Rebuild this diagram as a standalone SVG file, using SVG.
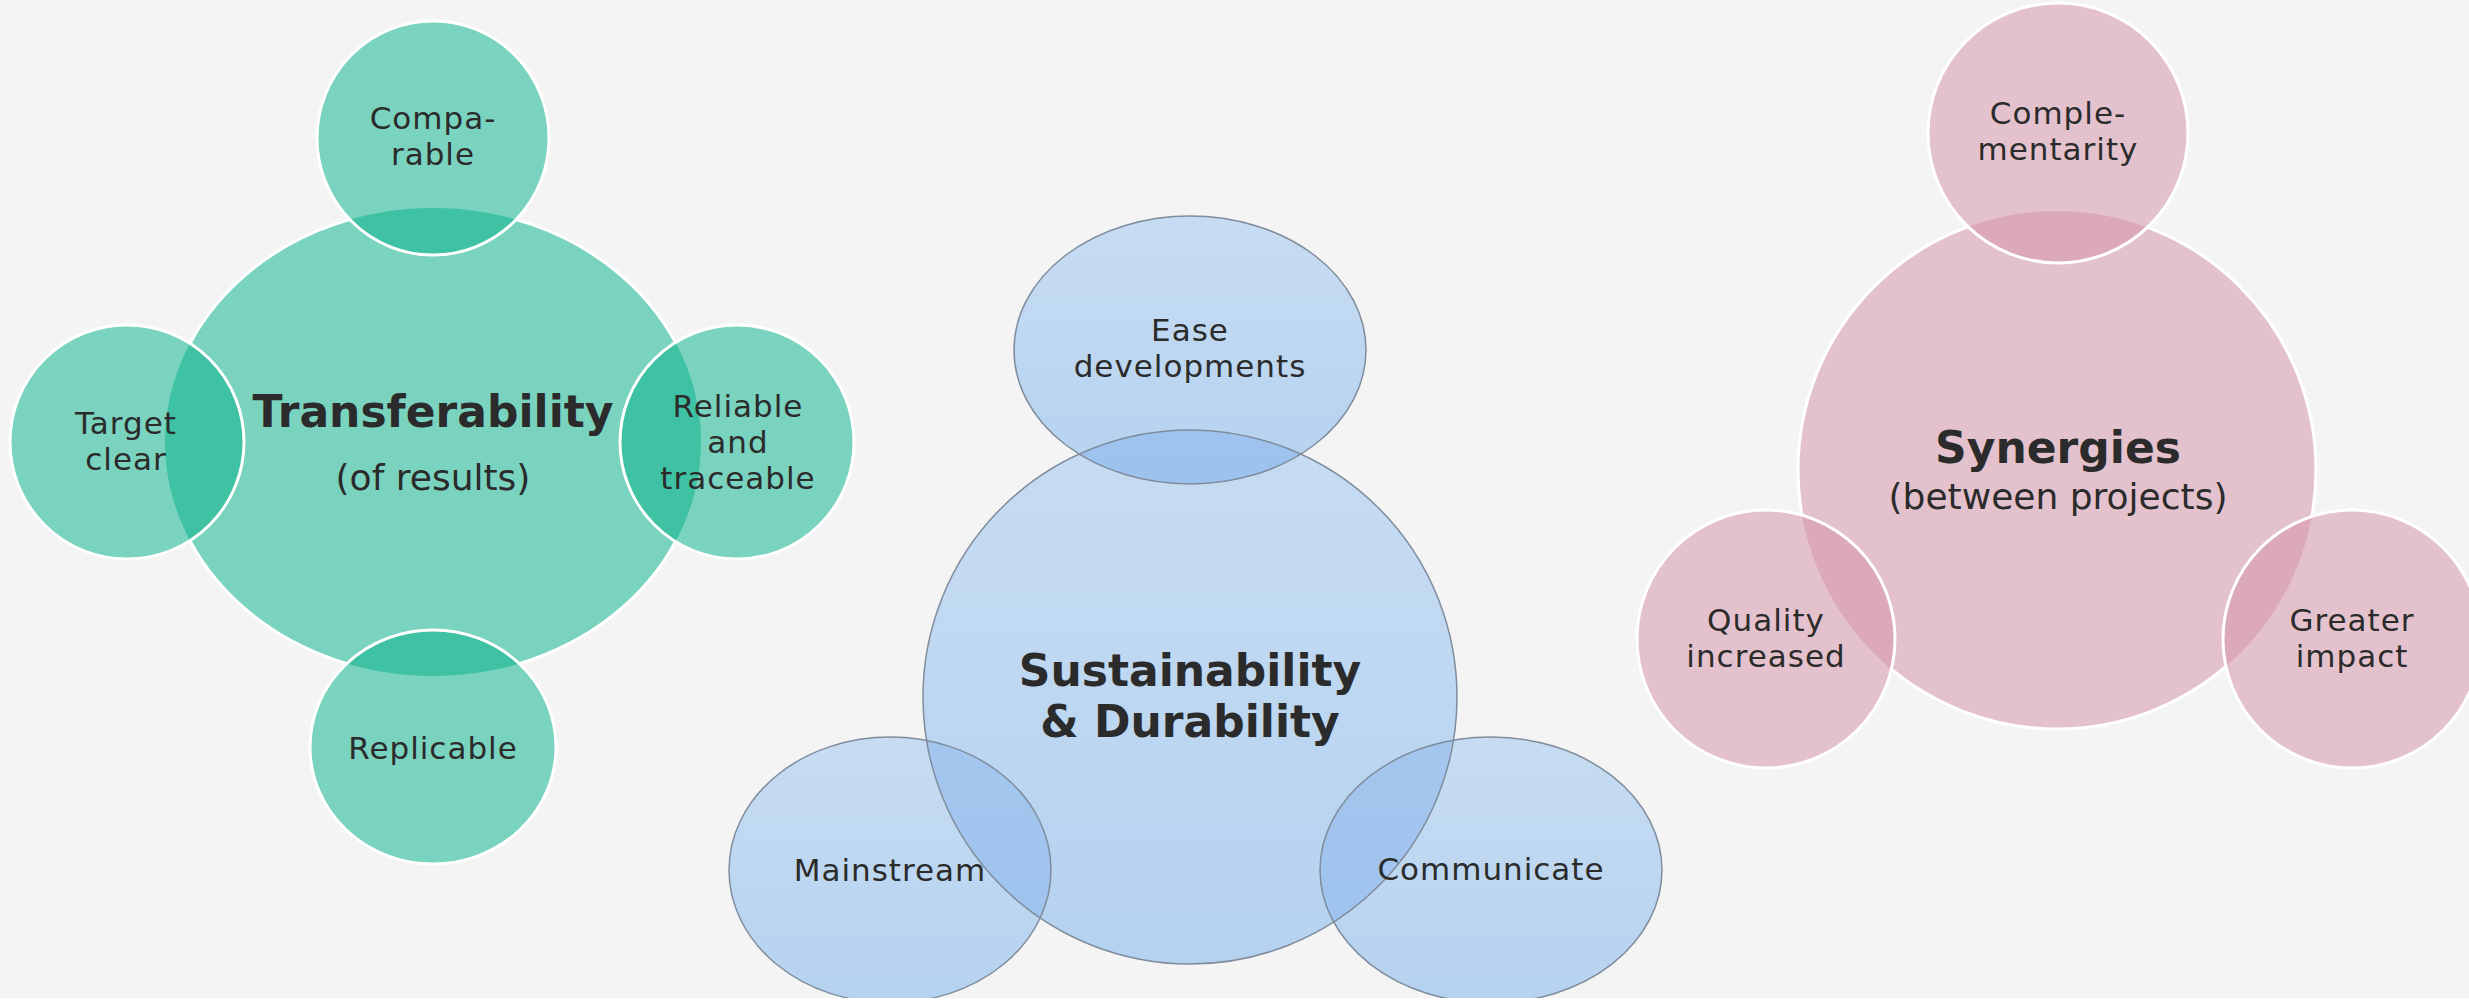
<svg xmlns="http://www.w3.org/2000/svg" width="2469" height="1002" viewBox="0 0 2469 1002">
<style>
.t{font-family:"DejaVu Sans","Liberation Sans",sans-serif;fill:#2b2b2b;text-anchor:middle}
.s{font-size:31px;letter-spacing:1px}
.h{font-size:44px;font-weight:bold}
.sub{font-size:36px}
.g{fill:#7ad3bf}
.gl{fill:#3ec2a3}
.wst{fill:none;stroke:#ffffff;stroke-width:3}
.p{fill:#e4c2cd}
.pl{fill:#dca8bb}
.b{fill:url(#bg)}
.bl{fill:url(#blg)}
.bst{fill:none;stroke:#7f8c9c;stroke-width:1.5}
</style>
<defs>
<linearGradient id="bg" x1="0" y1="0" x2="0" y2="1">
<stop offset="0" stop-color="#c7dcf2"/>
<stop offset="1" stop-color="#b5d2f0"/>
</linearGradient>
<linearGradient id="blg" x1="0" y1="0" x2="0" y2="1">
<stop offset="0" stop-color="#a4c6ee"/>
<stop offset="1" stop-color="#9cc2ee"/>
</linearGradient>
<clipPath id="cpGreen"><ellipse cx="433" cy="442" rx="268" ry="234"/></clipPath>
<clipPath id="cpBlue"><circle cx="1190" cy="697" r="267"/></clipPath>
<clipPath id="cpPink"><circle cx="2057" cy="470" r="259"/></clipPath>
<clipPath id="cpEase"><ellipse cx="1190" cy="350" rx="176" ry="134"/></clipPath>
<clipPath id="cpMain"><ellipse cx="890" cy="870" rx="161" ry="133"/></clipPath>
<clipPath id="cpComm"><ellipse cx="1491" cy="870" rx="171" ry="133"/></clipPath>
</defs>
<rect x="0" y="0" width="2469" height="1002" fill="#ffffff"/>
<rect x="0" y="0" width="2469" height="998" fill="#f4f4f4"/>

<g id="connectors"></g>

<!-- Green cluster -->
<g id="transferability">
<ellipse class="g" cx="433" cy="442" rx="268" ry="234" stroke="#ffffff" stroke-width="3"/>
<text class="t h" x="433" y="427">Transferability</text>
<text class="t sub" x="433" y="490">(of results)</text>
</g>
<g id="comparable">
<ellipse class="g" cx="433" cy="138" rx="116" ry="117"/>
<ellipse class="gl" cx="433" cy="138" rx="116" ry="117" clip-path="url(#cpGreen)"/>
<ellipse class="wst" cx="433" cy="138" rx="116" ry="117"/>
<text class="t s" x="433" y="129">Compa-</text>
<text class="t s" x="433" y="165">rable</text>
</g>
<g id="target-clear">
<ellipse class="g" cx="127" cy="442" rx="117" ry="117"/>
<ellipse class="gl" cx="127" cy="442" rx="117" ry="117" clip-path="url(#cpGreen)"/>
<ellipse class="wst" cx="127" cy="442" rx="117" ry="117"/>
<text class="t s" x="126" y="434">Target</text>
<text class="t s" x="126" y="470">clear</text>
</g>
<g id="reliable">
<ellipse class="g" cx="737" cy="442" rx="117" ry="117"/>
<ellipse class="gl" cx="737" cy="442" rx="117" ry="117" clip-path="url(#cpGreen)"/>
<ellipse class="wst" cx="737" cy="442" rx="117" ry="117"/>
<text class="t s" x="738" y="417">Reliable</text>
<text class="t s" x="738" y="453">and</text>
<text class="t s" x="738" y="489">traceable</text>
</g>
<g id="replicable">
<ellipse class="g" cx="433" cy="747" rx="123" ry="117"/>
<ellipse class="gl" cx="433" cy="747" rx="123" ry="117" clip-path="url(#cpGreen)"/>
<ellipse class="wst" cx="433" cy="747" rx="123" ry="117"/>
<text class="t s" x="433" y="759">Replicable</text>
</g>

<!-- Blue cluster -->
<g id="sustainability">
<circle class="b" cx="1190" cy="697" r="267"/>
<circle class="bst" cx="1190" cy="697" r="267"/>
<text class="t h" x="1190" y="686">Sustainability</text>
<text class="t h" x="1190" y="737">&amp; Durability</text>
</g>
<g id="ease-developments">
<ellipse class="b" cx="1190" cy="350" rx="176" ry="134"/>
<ellipse class="bl" cx="1190" cy="350" rx="176" ry="134" clip-path="url(#cpBlue)"/>
<ellipse class="bst" cx="1190" cy="350" rx="176" ry="134"/>
<circle class="bst" cx="1190" cy="697" r="267" clip-path="url(#cpEase)"/>
<text class="t s" x="1190" y="341">Ease</text>
<text class="t s" x="1190" y="377">developments</text>
</g>
<g id="mainstream">
<ellipse class="b" cx="890" cy="870" rx="161" ry="133"/>
<ellipse class="bl" cx="890" cy="870" rx="161" ry="133" clip-path="url(#cpBlue)"/>
<ellipse class="bst" cx="890" cy="870" rx="161" ry="133"/>
<circle class="bst" cx="1190" cy="697" r="267" clip-path="url(#cpMain)"/>
<text class="t s" x="890" y="881">Mainstream</text>
</g>
<g id="communicate">
<ellipse class="b" cx="1491" cy="870" rx="171" ry="133"/>
<ellipse class="bl" cx="1491" cy="870" rx="171" ry="133" clip-path="url(#cpBlue)"/>
<ellipse class="bst" cx="1491" cy="870" rx="171" ry="133"/>
<circle class="bst" cx="1190" cy="697" r="267" clip-path="url(#cpComm)"/>
<text class="t s" x="1491" y="880">Communicate</text>
</g>
<rect x="0" y="998" width="2469" height="4" fill="#ffffff"/>

<!-- Pink cluster -->
<g id="synergies">
<circle class="p" cx="2057" cy="470" r="259" stroke="#ffffff" stroke-width="3"/>
<text class="t h" x="2058" y="463">Synergies</text>
<text class="t sub" x="2058" y="509">(between projects)</text>
</g>
<g id="complementarity">
<circle class="p" cx="2058" cy="133" r="130"/>
<circle class="pl" cx="2058" cy="133" r="130" clip-path="url(#cpPink)"/>
<circle class="wst" cx="2058" cy="133" r="130"/>
<text class="t s" x="2058" y="124">Comple-</text>
<text class="t s" x="2058" y="160">mentarity</text>
</g>
<g id="quality-increased">
<circle class="p" cx="1766" cy="639" r="129"/>
<circle class="pl" cx="1766" cy="639" r="129" clip-path="url(#cpPink)"/>
<circle class="wst" cx="1766" cy="639" r="129"/>
<text class="t s" x="1766" y="631">Quality</text>
<text class="t s" x="1766" y="667">increased</text>
</g>
<g id="greater-impact">
<circle class="p" cx="2352" cy="639" r="129"/>
<circle class="pl" cx="2352" cy="639" r="129" clip-path="url(#cpPink)"/>
<circle class="wst" cx="2352" cy="639" r="129"/>
<text class="t s" x="2352" y="631">Greater</text>
<text class="t s" x="2352" y="667">impact</text>
</g>
</svg>
